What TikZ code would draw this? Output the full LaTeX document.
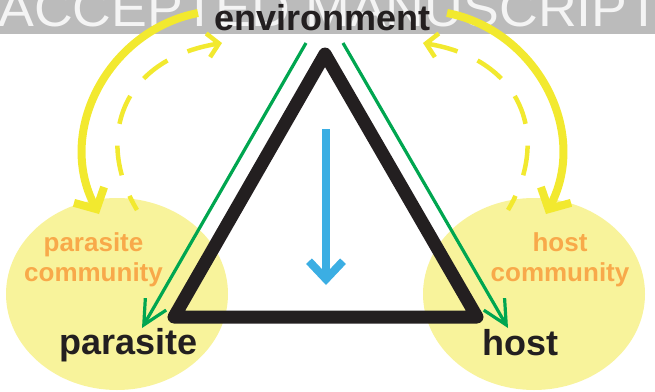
\documentclass[tikz,border=0pt]{standalone}
\usepackage{fontspec}
\setmainfont{Liberation Sans}
\usetikzlibrary{arrows.meta,shapes.geometric}
\definecolor{band}{HTML}{BBBBBB}
\definecolor{wm}{HTML}{F4F4F4}
\definecolor{ell}{HTML}{F8F39B}
\definecolor{ybright}{HTML}{F2E92F}
\definecolor{txtblack}{HTML}{231F20}
\definecolor{orng}{HTML}{F8A94A}
\definecolor{grn}{HTML}{00A650}
\definecolor{blu}{HTML}{3BAEE3}
\begin{document}
\begin{tikzpicture}[x=1pt,y=-1pt,
  lbl/.style={font=\bfseries\fontsize{36}{40}\selectfont, text=txtblack, inner sep=0pt, anchor=base},
  comm/.style={font=\bfseries\fontsize{26}{30}\selectfont, text=orng, inner sep=0pt, align=center},
  blob/.style={ellipse, fill=ell, draw=none, minimum width=222pt, minimum height=192pt, inner sep=0pt},
  ysolid/.style={draw=ybright, line width=8pt, -{Straight Barb[length=16pt,width=34pt,sharp]}},
  ydash/.style={draw=ybright, line width=4.5pt, dash pattern=on 30pt off 22pt, dash phase=14pt, -{Straight Barb[length=11pt,width=24pt,sharp]}},
  garrow/.style={draw=grn, line width=3.2pt, -{Straight Barb[length=24pt,width=24pt,sharp]}},
  barrow/.style={draw=blu, line width=8pt, -{Straight Barb[length=18pt,width=34pt,sharp]}},
  tri/.style={draw=txtblack, line width=13pt, line join=round}
]
\useasboundingbox (0,0) rectangle (655,391);
% watermark band
\fill[band] (0,0) rectangle (655,34);
\node[anchor=base west, inner sep=0pt, text=wm] (wmark) at (-2,26) {\resizebox{662pt}{36pt}{ACCEPTED MANUSCRIPT}};
% community blobs
\node[blob] (pcom) at (117,294) {};
\node[blob] (hcom) at (534,294) {};
% coordinates
\coordinate (ylS) at (198,13);
\coordinate (ylE) at (99,214);
\coordinate (yrS) at (447,13);
\coordinate (yrE) at (546,214);
\coordinate (dlS) at (137,210);
\coordinate (dlE) at (222,43);
\coordinate (drS) at (508,210);
\coordinate (drE) at (423,43);
\coordinate (apex) at (325,54);
\coordinate (bl) at (174,317);
\coordinate (br) at (477,317);
\coordinate (bS) at (326,129);
\coordinate (bE) at (326,285);
\coordinate (glS) at (306,43);
\coordinate (glE) at (142,328);
\coordinate (grS) at (343,43);
\coordinate (grE) at (508,328);
% yellow arrows
\draw[ysolid] (ylS) .. controls (110,30) and (55,130) .. (ylE);
\draw[ysolid] (yrS) .. controls (535,30) and (590,130) .. (yrE);
\draw[ydash] (dlS) .. controls (95,140) and (120,60) .. (dlE);
\draw[ydash] (drS) .. controls (550,140) and (525,60) .. (drE);
% triangle
\draw[tri] (apex) -- (bl) -- (br) -- cycle;
% blue arrow
\draw[barrow] (bS) -- (bE);
% green arrows
\draw[garrow] (glS) -- (glE);
\draw[garrow] (grS) -- (grE);
% labels
\node[lbl] (env) at (322.5,30) {environment};
\node[lbl] (par) at (128.5,354) {parasite};
\node[lbl] (host) at (520.5,355) {host};
\node[comm] (pct) at (93.5,260) {parasite\\community};
\node[comm] (hct) at (560,260) {host\\community};
\end{tikzpicture}
\end{document}
